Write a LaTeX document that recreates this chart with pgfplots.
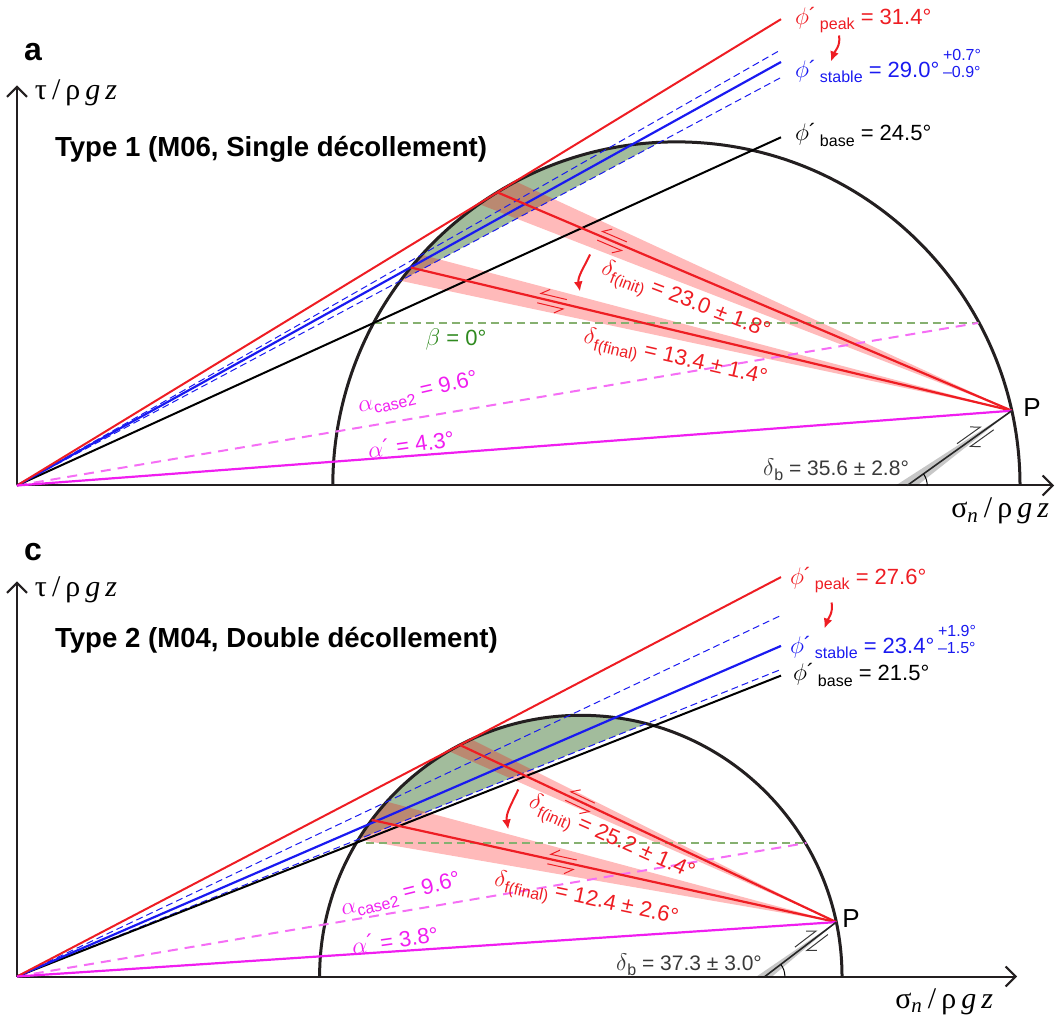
\documentclass[border=0pt]{standalone}
\usepackage{pgfplots}
\pgfplotsset{compat=1.18}
\usetikzlibrary{arrows.meta}
\usepackage{fontspec}
\setmainfont{Liberation Sans}
\newfontfamily\serifgr{Liberation Serif}

\definecolor{cred}{HTML}{EE1D23}
\definecolor{cblue}{HTML}{1A1AF0}
\definecolor{cmag}{HTML}{F01EF0}
\definecolor{cmagl}{HTML}{F56EF5}
\definecolor{cgreen}{HTML}{2F8A1F}
\definecolor{cgreenl}{HTML}{86B070}
\definecolor{segfill}{HTML}{5E8C54}
\definecolor{axisc}{HTML}{231F20}
\definecolor{cdark}{HTML}{3A3A3A}

\newcommand{\sub}[1]{\raisebox{-0.45ex}{\fontsize{8}{8}\selectfont #1}}
\newcommand{\pr}{\raisebox{0.1ex}{´}}
\newcommand{\gk}[1]{{\fontsize{13}{13}\selectfont$#1$}}
\newcommand{\gs}[1]{{\fontsize{12}{12}\selectfont$#1$}}
\newcommand{\lab}{\fontsize{11}{11}\selectfont}
\newcommand{\axlab}{\serifgr\fontsize{15}{15}\selectfont}

\pgfplotsset{
  mohr/.style={
    x=0.5pt, y=0.5pt,
    xmin=0, ymin=0,
    enlargelimits=false,
    axis lines=left,
    axis line style={line width=1pt, draw=axisc},
    x axis line style={-{Straight Barb[length=5pt,width=10pt]}},
    y axis line style={-{Straight Barb[length=5pt,width=10pt]}},
    xtick=\empty, ytick=\empty,
    clip=false,
    anchor=south west,
  },
}
\tikzset{
  blued/.style={cblue, line width=0.5pt, dash pattern=on 3.5pt off 2pt},
  betad/.style={cgreenl, line width=0.8pt, dash pattern=on 4pt off 2.5pt},
  alphad/.style={cmagl, line width=1pt, dash pattern=on 5pt off 3.5pt},
  band/.style={fill=red, fill opacity=0.27, draw=none},
  seg/.style={fill=segfill, fill opacity=0.58, draw=none},
  harp/.style={line width=0.5pt, -{Straight Barb[harpoon,swap,length=4pt,width=6pt]}},
  harpb/.style={line width=0.5pt, -{Straight Barb[harpoon,length=4pt,width=6pt]}},
  bendarr/.style={cred, line width=1pt, -{Latex[length=5pt,width=4.5pt]}},
}

\begin{document}
\begin{tikzpicture}
\useasboundingbox (0,0) rectangle (529pt,511pt);

% ---------------- Type 1 ----------------
\begin{axis}[mohr, at={(8.5pt,268.25pt)}, xmax=1037, ymax=400]
% shaded segment of the Mohr circle above the lower stable bound
\fill[seg] (axis cs:383.47,204.75) -- (axis cs:642.76,343.20)
  arc[start angle=92.78, end angle=143.42, radius=171.8pt] -- cycle;
% uncertainty fans of the fault lines through the pole
\fill[band] (axis cs:994.78,74.80) -- (axis cs:462.23,281.33)
  arc[start angle=125.03, end angle=117.83, radius=171.8pt] -- cycle;
\fill[band] (axis cs:994.78,74.80) -- (axis cs:383.51,204.71)
  arc[start angle=143.43, end angle=137.82, radius=171.8pt] -- cycle;
\fill[black, fill opacity=0.22] (axis cs:994.78,74.80) -- (axis cs:878.64,0) -- (axis cs:900.33,0) -- cycle;
% Mohr circle
\draw[line width=1.5pt, axisc] (axis cs:315.8,0) arc[start angle=180, end angle=0, radius=171.8pt];
% envelopes
\addplot[blued] coordinates {(0,0) (764,435.8)};
\addplot[blued] coordinates {(0,0) (764,408.0)};
\addplot[betad] coordinates {(356.7,162.55) (962.1,162.55)};
\addplot[alphad] coordinates {(0,0) (961.1,162.55)};
\addplot[black, line width=1pt] coordinates {(0,0) (764,348.2)};
\addplot[cblue, line width=1.1pt] coordinates {(0,0) (764,423.5)};
\addplot[cred, line width=1pt] coordinates {(0,0) (764,466.3)};
% fault lines through the pole P
\addplot[cred, line width=1.1pt] coordinates {(994.78,74.80) (480.24,293.21)};
\addplot[cred, line width=1.1pt] coordinates {(994.78,74.80) (393.76,217.99)};
\addplot[cmag, line width=1.1pt] coordinates {(0,0) (994.78,74.80)};
\addplot[black!85, line width=0.8pt] coordinates {(890.2,0) (994.78,74.80)};
\draw[line width=0.5pt] (axis cs:910.2,0) arc[start angle=0, end angle=35.6, radius=10pt];
% shear senses
\draw[cred, harp] (axis cs:609.8,243.6) -- (axis cs:584.1,254.6);
\draw[cred, harp] (axis cs:580.2,245.4) -- (axis cs:605.9,234.4);
\draw[cred, harp] (axis cs:549.8,185.9) -- (axis cs:522.5,192.4);
\draw[cred, harp] (axis cs:520.2,182.7) -- (axis cs:547.5,176.2);
\draw[cdark, harpb] (axis cs:940.0,41.8) -- (axis cs:964.4,59.2);
\draw[cdark, harpb] (axis cs:976.7,55.7) -- (axis cs:952.3,38.2);
\draw[bendarr] (axis cs:822,450) to[out=-80,in=70] (axis cs:814,424);
\draw[bendarr] (axis cs:573,231) to[out=-115,in=100] (axis cs:563,194);
% labels
\node[font=\bfseries\fontsize{16}{16}\selectfont] at (axis cs:16,433.5) {a};
\node[font=\axlab] at (axis cs:59,392.5) {τ\,/\,ρ\,\textit{g}\,\textit{z}};
\node[font=\axlab, anchor=east] at (axis cs:1039,-25.5) {σ\textsubscript{\textit{n}}\,/\,ρ\,\textit{g}\,\textit{z}};
\node[anchor=west, font=\bfseries\fontsize{13.8}{14}\selectfont] at (axis cs:31,336.5) {Type 1 (M06, Single décollement)};
\node[anchor=west, text=cred, font=\lab] at (axis cs:771,465.5) {\gk{\phi}\pr\,\sub{peak} = 31.4°};
\node[anchor=west, text=cblue, font=\lab] at (axis cs:771,419.5) {\gk{\phi}\pr\,\sub{stable} = 29.0°\,{\fontsize{8}{8.5}\selectfont\shortstack[l]{+0.7°\\–0.9°}}};
\node[anchor=west, text=black, font=\lab] at (axis cs:771,350.5) {\gk{\phi}\pr\,\sub{base} = 24.5°};
\node[rotate=-21, text=cred, font=\lab] at (axis cs:668,183.5) {\gs{\delta}\sub{f(init)} = 23.0 ± 1.8°};
\node[rotate=-13, text=cred, font=\lab] at (axis cs:658,126) {\gs{\delta}\sub{f(final)} = 13.4 ± 1.4°};
\node[text=cgreen, font=\lab] at (axis cs:439,145.5) {\gs{\beta} = 0°};
\node[rotate=13, text=cmag, font=\lab] at (axis cs:401,92) {\gs{\alpha}\sub{case2} = 9.6°};
\node[rotate=8, text=cmag, font=\lab] at (axis cs:394,41.5) {\gs{\alpha}\pr\ = 4.3°};
\node[text=cdark, font=\fontsize{10.5}{10.5}\selectfont] at (axis cs:819,15.5) {\gs{\delta}\sub{b} = 35.6 ± 2.8°};
\node[font=\fontsize{13}{13}\selectfont] at (axis cs:1015,77.5) {P};
\end{axis}

% ---------------- Type 2 ----------------
\begin{axis}[mohr, at={(8.5pt,22.75pt)}, xmax=1000, ymax=395]
\fill[seg] (axis cs:341.60,137.32) -- (axis cs:629.14,252.91)
  arc[start angle=75.51, end angle=148.29, radius=130.6pt] -- cycle;
\fill[band] (axis cs:819.28,54.41) -- (axis cs:431.72,225.35)
  arc[start angle=120.38, end angle=114.78, radius=130.6pt] -- cycle;
\fill[band] (axis cs:819.28,54.41) -- (axis cs:341.38,136.96)
  arc[start angle=148.37, end angle=137.98, radius=130.6pt] -- cycle;
\fill[black, fill opacity=0.22] (axis cs:819.28,54.41) -- (axis cs:739.52,0) -- (axis cs:755.12,0) -- cycle;
\draw[line width=1.5pt, axisc] (axis cs:302.6,0) arc[start angle=180, end angle=0, radius=130.6pt];
\addplot[blued] coordinates {(0,0) (764,361.1)};
\addplot[blued] coordinates {(0,0) (764,307.1)};
\addplot[betad] coordinates {(349,133.69) (788.2,133.69)};
\addplot[alphad] coordinates {(0,0) (789.5,133.5)};
\addplot[black, line width=1pt] coordinates {(0,0) (764,300.9)};
\addplot[cblue, line width=1.1pt] coordinates {(0,0) (764,330.6)};
\addplot[cred, line width=1pt] coordinates {(0,0) (764,399.4)};
\addplot[cred, line width=1.1pt] coordinates {(819.28,54.41) (442.87,231.53)};
\addplot[cred, line width=1.1pt] coordinates {(819.28,54.41) (354.70,156.56)};
\addplot[cmag, line width=1.1pt] coordinates {(0,0) (819.28,54.41)};
\addplot[black!85, line width=0.8pt] coordinates {(747.88,0) (819.28,54.41)};
\draw[line width=0.5pt] (axis cs:767.9,0) arc[start angle=0, end angle=37.3, radius=10pt];
\draw[cred, harp] (axis cs:577.8,173.4) -- (axis cs:552.5,185.3);
\draw[cred, harp] (axis cs:548.2,176.2) -- (axis cs:573.5,164.3);
\draw[cred, harp] (axis cs:559.7,116.5) -- (axis cs:532.4,122.5);
\draw[cred, harp] (axis cs:530.3,112.7) -- (axis cs:557.6,106.7);
\draw[cdark, harpb] (axis cs:777.9,29.4) -- (axis cs:800.2,46.4);
\draw[cdark, harpb] (axis cs:810.9,42.0) -- (axis cs:788.7,25.1);
\draw[bendarr] (axis cs:814.6,374) to[out=-80,in=70] (axis cs:807.5,348);
\draw[bendarr] (axis cs:501.3,187) to[out=-115,in=100] (axis cs:491.3,147);
\node[font=\bfseries\fontsize{16}{16}\selectfont] at (axis cs:16,424.5) {c};
\node[font=\axlab] at (axis cs:59,386.5) {τ\,/\,ρ\,\textit{g}\,\textit{z}};
\node[font=\axlab, anchor=east] at (axis cs:983,-25) {σ\textsubscript{\textit{n}}\,/\,ρ\,\textit{g}\,\textit{z}};
\node[anchor=west, font=\bfseries\fontsize{13.8}{14}\selectfont] at (axis cs:31,336.5) {Type 2 (M04, Double décollement)};
\node[anchor=west, text=cred, font=\lab] at (axis cs:766,396.5) {\gk{\phi}\pr\,\sub{peak} = 27.6°};
\node[anchor=west, text=cblue, font=\lab] at (axis cs:766,334.5) {\gk{\phi}\pr\,\sub{stable} = 23.4°\,{\fontsize{8}{8.5}\selectfont\shortstack[l]{+1.9°\\–1.5°}}};
\node[anchor=west, text=black, font=\lab] at (axis cs:769,301.5) {\gk{\phi}\pr\,\sub{base} = 21.5°};
\node[rotate=-24, text=cred, font=\lab] at (axis cs:594,137) {\gs{\delta}\sub{f(init)} = 25.2 ± 1.4°};
\node[rotate=-12, text=cred, font=\lab] at (axis cs:569,76) {\gs{\delta}\sub{f(final)} = 12.4 ± 2.6°};
\node[rotate=14, text=cmag, font=\lab] at (axis cs:384,81) {\gs{\alpha}\sub{case2} = 9.6°};
\node[rotate=8, text=cmag, font=\lab] at (axis cs:378,37) {\gs{\alpha}\pr\ = 3.8°};
\node[text=cdark, font=\fontsize{10.5}{10.5}\selectfont] at (axis cs:672,11.5) {\gs{\delta}\sub{b} = 37.3 ± 3.0°};
\node[font=\fontsize{13}{13}\selectfont] at (axis cs:834,58) {P};
\end{axis}
\end{tikzpicture}
\end{document}
